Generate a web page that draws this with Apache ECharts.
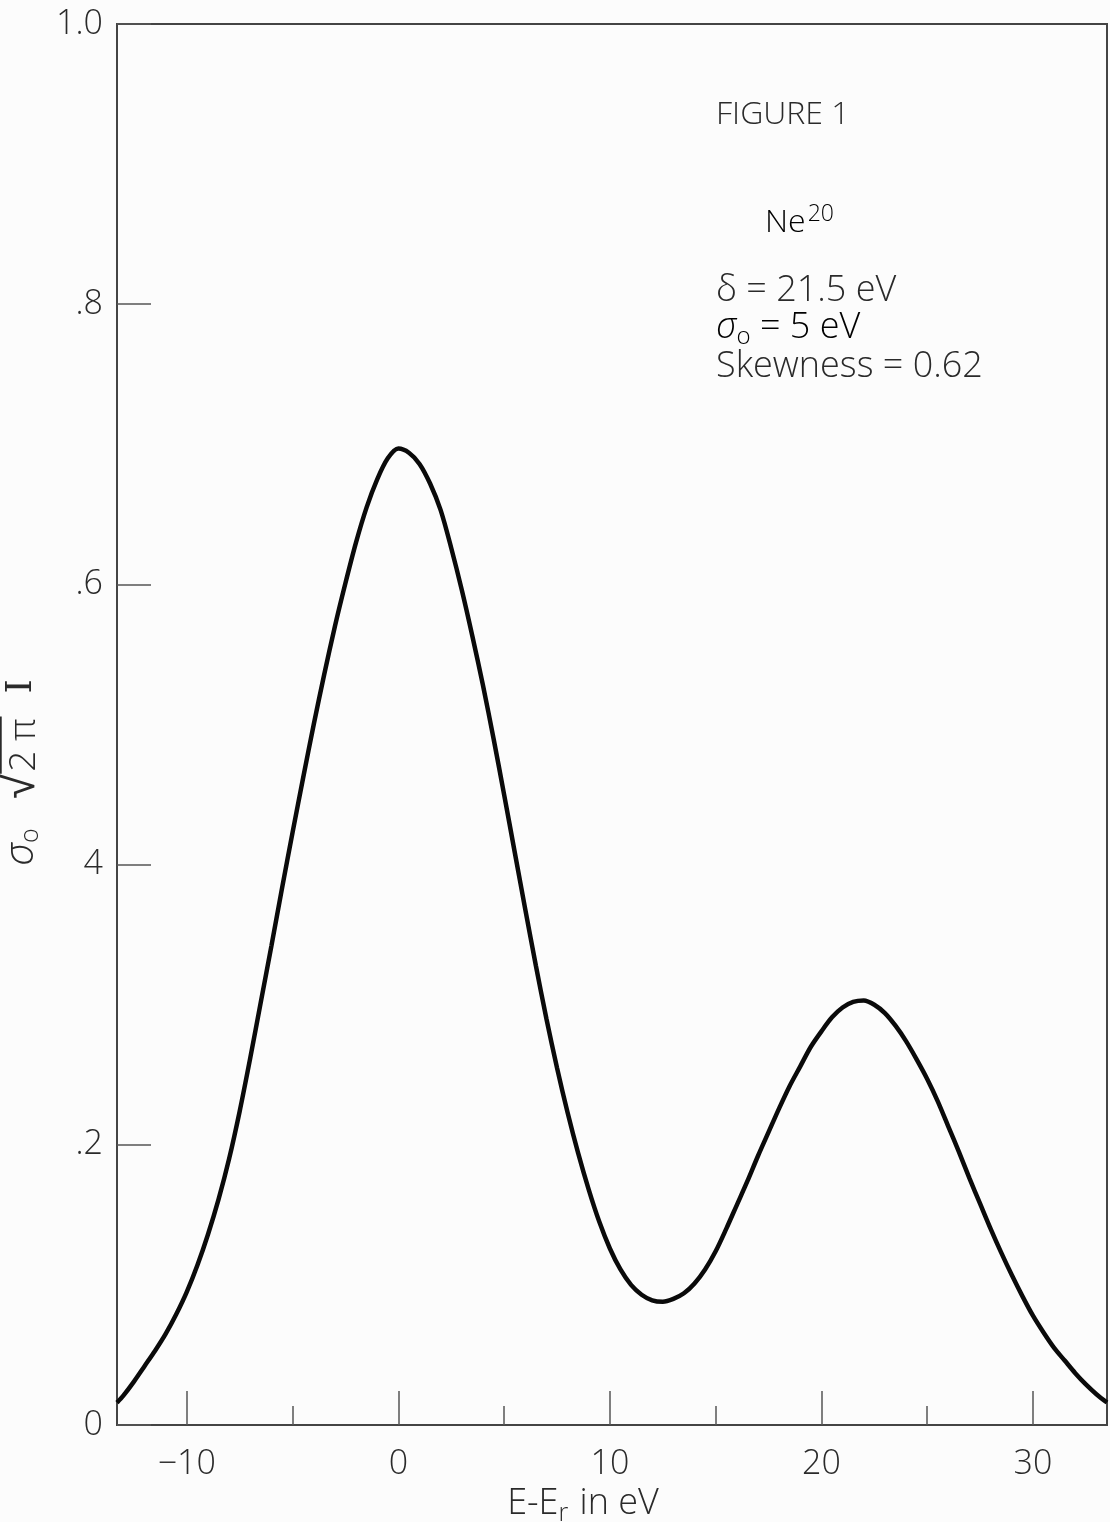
<!DOCTYPE html>
<html>
<head>
<meta charset="utf-8">
<script src="https://cdn.jsdelivr.net/npm/echarts@6/dist/echarts.min.js"></script>
<style>
html,body{margin:0;padding:0;background:#fcfcfc;}
#chart{width:1110px;height:1522px;}
</style>
</head>
<body>
<div id="chart"></div>
<script>
// Energy offset E - E_r (eV)
const energy = [-13.3, -13, -12.5, -12, -11.5, -11, -10.5, -10, -9.5, -9, -8.5, -8, -7.5, -7, -6.5, -6, -5.5, -5,
  -4.5, -4, -3.5, -3, -2.5, -2, -1.5, -1, -0.5, 0, 0.5, 1, 1.5, 2, 2.5, 3, 3.5, 4, 4.5, 5, 5.5, 6, 6.5, 7, 7.5,
  8, 8.5, 9, 9.5, 10, 10.5, 11, 11.5, 12, 12.5, 13, 13.5, 14, 14.5, 15, 15.5, 16, 16.5, 17, 17.5, 18, 18.5, 19,
  19.5, 20, 20.5, 21, 21.5, 22, 22.5, 23, 23.5, 24, 24.5, 25, 25.5, 26, 26.5, 27, 27.5, 28, 28.5, 29, 29.5, 30,
  30.5, 31, 31.5, 32, 32.5, 33, 33.5];
// sigma0 sqrt(2 pi) I
const intensity = [0.016, 0.021, 0.031, 0.042, 0.053, 0.065, 0.079, 0.095, 0.114, 0.136, 0.161, 0.190, 0.224, 0.262,
  0.302, 0.342, 0.383, 0.423, 0.462, 0.500, 0.536, 0.570, 0.601, 0.630, 0.655, 0.675, 0.690, 0.697, 0.694, 0.686,
  0.672, 0.653, 0.626, 0.596, 0.563, 0.528, 0.490, 0.450, 0.409, 0.368, 0.328, 0.290, 0.255, 0.223, 0.194, 0.168,
  0.145, 0.126, 0.111, 0.100, 0.093, 0.089, 0.088, 0.090, 0.094, 0.101, 0.111, 0.124, 0.140, 0.157, 0.174, 0.192,
  0.209, 0.226, 0.242, 0.256, 0.270, 0.281, 0.291, 0.298, 0.302, 0.303, 0.300, 0.294, 0.285, 0.274, 0.261, 0.247,
  0.231, 0.213, 0.195, 0.176, 0.158, 0.140, 0.123, 0.107, 0.092, 0.078, 0.066, 0.055, 0.046, 0.037, 0.029, 0.022,
  0.016];

const xMajorTicks = [-10, 0, 10, 20, 30];
const xMinorTicks = [-5, 5, 15, 25];
const yTickLabels = {0: '0', 0.2: '.2', 0.4: '4', 0.6: '.6', 0.8: '.8', 1: '1.0'};

const FONT = '"Open Sans", "DejaVu Sans", sans-serif';
const INK = '#2a2a2a';

// small image used as a vinculum (overbar) behind the radicand
const bar = document.createElement('canvas');
bar.width = 8; bar.height = 40;
const bctx = bar.getContext('2d');
bctx.fillStyle = INK; bctx.fillRect(0, 0, 8, 2);

const chart = echarts.init(document.getElementById('chart'), null, {renderer: 'canvas'});
const data = energy.map((e, i) => [e, intensity[i]]);

chart.setOption({
  backgroundColor: '#fcfcfc',
  animation: false,
  grid: {left: 117, right: 3, top: 24, bottom: 97, containLabel: false, outerBoundsMode: 'none',
    show: true, borderColor: '#444', borderWidth: 2, backgroundColor: 'transparent'},
  xAxis: [{
    type: 'value', min: -13.3, max: 33.5,
    axisLine: {show: true, onZero: false, lineStyle: {color: '#444', width: 2}},
    axisTick: {show: true, inside: true, length: 34, customValues: xMajorTicks, lineStyle: {color: '#555', width: 1.5}},
    axisLabel: {show: true, customValues: xMajorTicks, margin: 22, fontSize: 34, color: INK, fontFamily: FONT, fontWeight: 300,
      formatter: v => v < 0 ? '\u2212' + Math.abs(v) : String(v)},
    splitLine: {show: false},
    name: '{a|E-E}{sub|r}{a| in eV}', nameLocation: 'middle', nameGap: 45,
    nameTextStyle: {padding: [0, 58, 0, 0], rich: {
      a: {fontSize: 36, color: INK, fontFamily: FONT, fontWeight: 300},
      sub: {fontSize: 25, color: INK, fontFamily: FONT, fontWeight: 300, padding: [20, 2, 0, 0]}
    }}
  }, {
    type: 'value', min: -13.3, max: 33.5, position: 'bottom',
    axisLine: {show: false},
    axisTick: {show: true, inside: true, length: 19, customValues: xMinorTicks, lineStyle: {color: '#555', width: 1.5}},
    axisLabel: {show: false},
    splitLine: {show: false}
  }],
  yAxis: {
    type: 'value', min: 0, max: 1, interval: 0.2,
    axisLine: {show: true, onZero: false, lineStyle: {color: '#444', width: 2}},
    axisTick: {show: true, inside: true, length: 34, lineStyle: {color: '#555', width: 1.5}},
    axisLabel: {margin: 14, fontSize: 34, color: INK, fontFamily: FONT, fontWeight: 300,
      formatter: v => yTickLabels[Math.round(v * 10) / 10]},
    splitLine: {show: false},
    name: '{s|σ}{sub|o}{a|  √}{o|2 π}{i|  I}', nameLocation: 'middle', nameGap: 72, nameMoveOverlap: false,
    nameTextStyle: {padding: [0, 96, 0, 0], rich: {
      s: {fontSize: 40, color: INK, fontFamily: FONT, fontStyle: 'italic', fontWeight: 300},
      sub: {fontSize: 25, color: INK, fontFamily: FONT, fontWeight: 300, padding: [18, 0, 0, 0]},
      a: {fontSize: 46, color: INK, fontFamily: '"DejaVu Sans", sans-serif', fontWeight: 300},
      o: {fontSize: 37, color: INK, fontFamily: FONT, fontWeight: 300, backgroundColor: {image: bar}, padding: [4, 2, 0, 2], height: 41},
      i: {fontSize: 36, color: INK, fontFamily: '"DejaVu Serif", serif'}
    }}
  },
  graphic: [
    {type: 'text', left: 716, top: 99, style: {text: 'FIGURE 1', font: '300 32px ' + FONT, fill: INK}},
    {type: 'text', left: 765, top: 203, style: {
      text: '{a|Ne}{sup|20}', rich: {
        a: {fontSize: 32, fontFamily: FONT, fontWeight: 300, color: INK},
        sup: {fontSize: 23, fontFamily: FONT, fontWeight: 300, color: INK, padding: [0, 0, 16, 2]}
      }}},
    {type: 'text', left: 716, top: 273, style: {text: 'δ = 21.5 eV', font: '300 36px ' + FONT, fill: INK}},
    {type: 'text', left: 716, top: 310, style: {
      text: '{s|σ}{sub|o}{a| = 5 eV}', rich: {
        s: {fontSize: 36, fontFamily: FONT, fontStyle: 'italic', fontWeight: 300, color: INK},
        sub: {fontSize: 24, fontFamily: FONT, fontWeight: 300, color: INK, padding: [18, 0, 0, 0]},
        a: {fontSize: 36, fontFamily: FONT, fontWeight: 300, color: INK}
      }}},
    {type: 'text', left: 716, top: 349, style: {text: 'Skewness = 0.62', font: '300 36px ' + FONT, fill: INK}}
  ],
  series: [{
    type: 'line', data: data, smooth: 0.3, symbol: 'none', clip: true,
    lineStyle: {color: '#0a0a0a', width: 4.5}
  }]
});
</script>
</body>
</html>
